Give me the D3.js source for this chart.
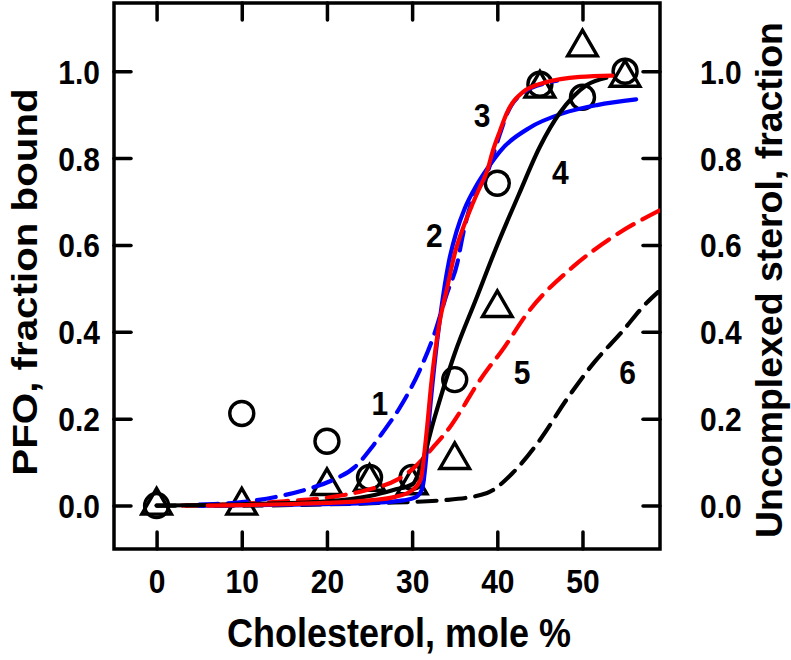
<!DOCTYPE html>
<html>
<head>
<meta charset="utf-8">
<script src="https://cdn.jsdelivr.net/npm/d3@7"></script>
<style>
  html, body { margin: 0; padding: 0; background: #fff; }
  svg { display: block; }
  text { font-family: "Liberation Sans", Arial, sans-serif; font-weight: bold; fill: #000; }
</style>
</head>
<body>
<svg id="chart" width="791" height="660"></svg>
<script>
// ---------- data ----------
const cholesterol = [0, 10, 20, 25, 30, 35, 40, 45, 50, 55];
const pfoCircles   = [0.0, 0.212, 0.148, 0.065, 0.065, 0.29, 0.742, 0.97, 0.94, 1.0];
const pfoTriangles = [0.0, 0.0, 0.045, 0.055, 0.047, 0.105, 0.455, 0.96, 1.055, 0.985];

const xTicks = [0, 10, 20, 30, 40, 50];
const yTicks = [0.0, 0.2, 0.4, 0.6, 0.8, 1.0];

// curve 1 : blue dashed
const c1x = [5, 10, 15, 17.4, 20.7, 23.3, 25.3, 26.5, 28.6, 30.9, 32.5, 34.1, 35.3, 36.0, 36.8, 38.8, 40.3, 41.1, 43.0, 45.8, 47.0];
const c1y = [0.002, 0.008, 0.024, 0.036, 0.059, 0.089, 0.135, 0.167, 0.227, 0.312, 0.389, 0.489, 0.558, 0.627, 0.688, 0.765, 0.855, 0.90, 0.95, 0.973, 0.978];
// curve 2 : blue solid
const c2x = [5, 15, 25, 29, 30.5, 31.2, 31.6, 32.0, 32.6, 33.4, 34.3, 35.2, 36.2, 37.5, 38.8, 40.3, 43.8, 47.7, 51.7, 56.3];
const c2y = [0.0, 0.002, 0.006, 0.012, 0.02, 0.04, 0.10, 0.2, 0.32, 0.45, 0.56, 0.63, 0.685, 0.735, 0.775, 0.815, 0.87, 0.903, 0.922, 0.935];
// curve 3 : red solid
const c3x = [6, 10, 15, 20, 25, 28, 30, 31, 31.6, 32.3, 33.2, 34.1, 35.0, 36.0, 37.0, 38.0, 38.8, 39.5, 40.3, 41.1, 43.0, 45.8, 49.7, 53.5];
const c3y = [0.0, 0.001, 0.003, 0.006, 0.012, 0.02, 0.035, 0.06, 0.15, 0.29, 0.42, 0.5, 0.58, 0.64, 0.69, 0.735, 0.77, 0.818, 0.862, 0.903, 0.952, 0.975, 0.987, 0.99];
// curve 4 : black solid
const c4x = [0, 10, 20, 25, 27.8, 30.1, 31.1, 32.6, 35.0, 37.5, 40.0, 42.5, 45.0, 47.3, 48.9, 50.5, 52.8];
const c4y = [0.0, 0.003, 0.01, 0.022, 0.036, 0.05, 0.095, 0.2, 0.35, 0.475, 0.6, 0.715, 0.826, 0.903, 0.941, 0.968, 0.985];
// curve 5 : red dashed
const c5x = [3, 10, 15, 20.7, 24.7, 28.2, 30.1, 32.5, 34.6, 36.0, 37.2, 39.1, 40.3, 43.8, 48.9, 53.6, 59.1];
const c5y = [0.0, 0.004, 0.01, 0.02, 0.036, 0.059, 0.085, 0.135, 0.185, 0.227, 0.266, 0.32, 0.35, 0.45, 0.55, 0.619, 0.68];
// curve 6 : black dashed
const c6x = [0, 10, 20, 26.2, 34.1, 38.8, 41.8, 45.0, 48.1, 51.3, 54.5, 57.5, 58.9];
const c6y = [0.0, 0.0, 0.003, 0.006, 0.013, 0.029, 0.075, 0.151, 0.243, 0.328, 0.397, 0.466, 0.492];

// curve number labels (data coordinates)
const curveLabels = ["1", "2", "3", "4", "5", "6"];
const labelX = [26.2, 32.6, 38.2, 47.4, 42.9, 55.3];
const labelY = [0.235, 0.622, 0.9, 0.768, 0.308, 0.308];

// ---------- layout ----------
const svg = d3.select("#chart");
const L = 114, R = 660, T = 3, B = 549;
const x = d3.scaleLinear().domain([-5, 59.1]).range([L, R]);
const y = d3.scaleLinear().domain([-0.1, 1.157]).range([B, T]);

const tickLen = 17;
const stretch = 1.12;           // reference text is slightly tall/narrow
const fmt = d3.format(".1f");

function styleAxis(g) {
  g.select(".domain").remove();
  g.selectAll(".tick line").attr("stroke", "#000").attr("stroke-width", 3.5).attr("stroke-linecap", "round");
}
// move text offsets into a transform so the glyphs can be stretched vertically
function stretchText(sel, size) {
  sel.attr("font-size", size).each(function () {
    const t = d3.select(this);
    const tx = +t.attr("x") || 0, ty = +t.attr("y") || 0;
    t.attr("x", 0).attr("y", 0).attr("transform", `translate(${tx},${ty}) scale(1,${stretch})`);
  });
}

svg.append("g").attr("transform", `translate(0,${B})`)
  .call(d3.axisBottom(x).tickValues(xTicks).tickSize(-tickLen).tickPadding(0).tickFormat(d3.format("d")))
  .call(styleAxis)
  .selectAll("text").attr("y", 44).attr("dy", null).call(stretchText, 30);
svg.append("g").attr("transform", `translate(0,${T})`)
  .call(d3.axisTop(x).tickValues(xTicks).tickSize(-tickLen).tickFormat(""))
  .call(styleAxis);
svg.append("g").attr("transform", `translate(${L},0)`)
  .call(d3.axisLeft(y).tickValues(yTicks).tickSize(-tickLen).tickPadding(14).tickFormat(fmt))
  .call(styleAxis)
  .selectAll("text").attr("y", 12).attr("dy", null).call(stretchText, 30);
svg.append("g").attr("transform", `translate(${R},0)`)
  .call(d3.axisRight(y).tickValues(yTicks).tickSize(-tickLen).tickPadding(40).tickFormat(fmt))
  .call(styleAxis)
  .selectAll("text").attr("y", 12).attr("dy", null).call(stretchText, 30);

// frame
svg.append("rect").attr("x", L).attr("y", T).attr("width", R - L).attr("height", B - T)
  .attr("fill", "none").attr("stroke", "#000").attr("stroke-width", 3.5);

svg.append("clipPath").attr("id", "clip").append("rect")
  .attr("x", L).attr("y", T).attr("width", R - L).attr("height", B - T);
const plot = svg.append("g").attr("clip-path", "url(#clip)");

// markers
const tri = d3.symbol().type(d3.symbolTriangle).size(380);
plot.selectAll("path.tri").data(cholesterol).join("path")
  .attr("class", "tri")
  .attr("d", tri)
  .attr("transform", (d, i) => `translate(${x(d)},${y(pfoTriangles[i])})`)
  .attr("fill", "none").attr("stroke", "#000").attr("stroke-width", 3.4);
plot.selectAll("circle.pt").data(cholesterol).join("circle")
  .attr("class", "pt")
  .attr("cx", d => x(d)).attr("cy", (d, i) => y(pfoCircles[i]))
  .attr("r", 12)
  .attr("fill", "none").attr("stroke", "#000").attr("stroke-width", 3.4);

// curves
const line = d3.line().x(d => x(d[0])).y(d => y(d[1])).curve(d3.curveMonotoneX);
const curves = [
  { xs: c6x, ys: c6y, color: "#000000", dash: "19,10" },
  { xs: c5x, ys: c5y, color: "#ff0000", dash: "19,10" },
  { xs: c1x, ys: c1y, color: "#0000ff", dash: "19,10" },
  { xs: c2x, ys: c2y, color: "#0000ff", dash: null },
  { xs: c4x, ys: c4y, color: "#000000", dash: null },
  { xs: c3x, ys: c3y, color: "#ff0000", dash: null }
];
curves.forEach(c => {
  plot.append("path")
    .datum(c.xs.map((v, i) => [v, c.ys[i]]))
    .attr("d", line)
    .attr("fill", "none")
    .attr("stroke", c.color)
    .attr("stroke-width", 4.2)
    .attr("stroke-dasharray", c.dash)
    .attr("stroke-linecap", "round");
});

// curve number labels
svg.selectAll("text.lbl").data(curveLabels).join("text")
  .attr("class", "lbl")
  .attr("text-anchor", "middle")
  .attr("font-size", 30)
  .attr("transform", (d, i) => `translate(${x(labelX[i])},${y(labelY[i]) + 12}) scale(1,${stretch})`)
  .text(d => d);

// axis titles
svg.append("text").attr("transform", `translate(399,647) scale(1,${stretch})`)
  .attr("text-anchor", "middle").attr("font-size", 36)
  .text("Cholesterol, mole %");
svg.append("text").attr("transform", `translate(37,${(T + B) / 2 + 6}) rotate(-90) scale(${stretch},1)`)
  .attr("text-anchor", "middle").attr("font-size", 36)
  .text("PFO, fraction bound");
svg.append("text").attr("transform", `translate(782,${(T + B) / 2 + 4}) rotate(-90) scale(1.04,1)`)
  .attr("text-anchor", "middle").attr("font-size", 36)
  .text("Uncomplexed sterol, fraction");
</script>
</body>
</html>
